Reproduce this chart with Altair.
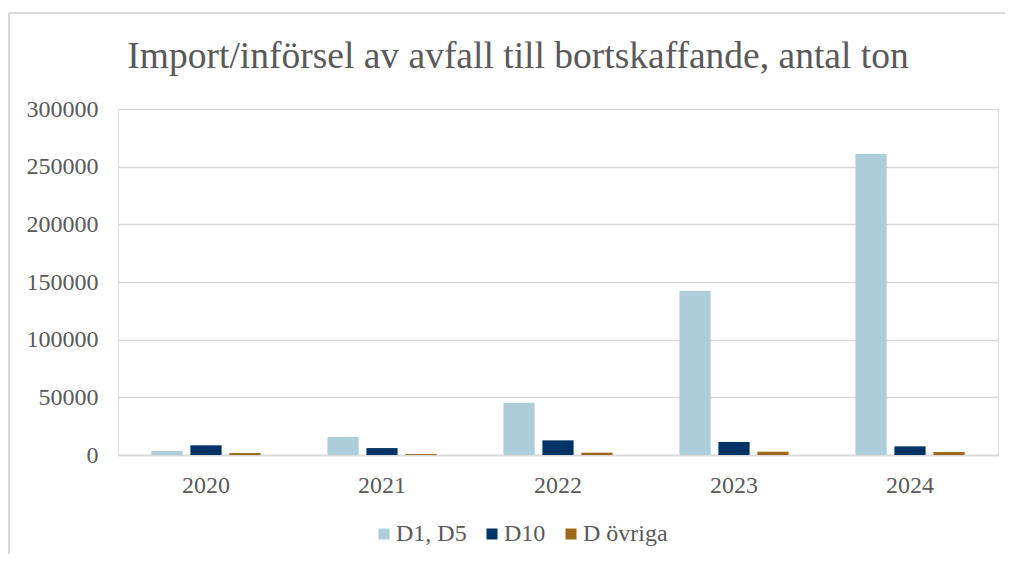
import altair as alt
import pandas as pd

years = ["2020", "2021", "2022", "2023", "2024"]
series = ["D1, D5", "D10", "D övriga"]
d1_d5 = [3500, 15600, 45300, 142200, 261000]
d10 = [8400, 6000, 12700, 11300, 7500]
d_ovriga = [1700, 800, 2000, 2900, 2600]
colors = ["#ADCDDA", "#003366", "#9C6A1A"]
y_ticks = [0, 50000, 100000, 150000, 200000, 250000, 300000]
title_text = "Import/införsel av avfall till bortskaffande, antal ton"

rows = []
for i, yr in enumerate(years):
    for s, vals in zip(series, [d1_d5, d10, d_ovriga]):
        rows.append({"År": yr, "Serie": s, "Ton": vals[i]})
df = pd.DataFrame(rows)

FONT = "Liberation Serif"
GREY = "#595959"

bars = alt.Chart(df).mark_bar().encode(
    x=alt.X("År:N", sort=years,
            scale=alt.Scale(paddingInner=0.38, paddingOuter=0.19),
            axis=alt.Axis(title=None, labelAngle=0, ticks=False, tickSize=0,
                          labelPadding=18, labelFont=FONT, labelFontSize=24,
                          labelColor=GREY, domainColor="#d9d9d9", domainWidth=1.5,
                          grid=False)),
    xOffset=alt.XOffset("Serie:N", sort=series,
                        scale=alt.Scale(paddingInner=0.2, paddingOuter=0)),
    y=alt.Y("Ton:Q", scale=alt.Scale(domain=[0, 300000], nice=False),
            axis=alt.Axis(title=None, values=y_ticks, format="d", domain=False,
                          ticks=False, tickSize=0, labelPadding=20, labelFont=FONT,
                          labelFontSize=24, labelColor=GREY, gridColor="#d9d9d9",
                          gridWidth=1.5)),
    color=alt.Color("Serie:N", sort=series,
                    scale=alt.Scale(domain=series, range=colors),
                    legend=alt.Legend(title=None, orient="none", direction="horizontal",
                                      legendX=254, legendY=413, symbolType="square",
                                      symbolSize=121, symbolStrokeWidth=0,
                                      labelFont=FONT, labelFontSize=24,
                                      labelColor=GREY, labelOffset=0,
                                      columnPadding=13, padding=0)),
)

title = alt.Chart(pd.DataFrame({"t": [title_text]})).mark_text(
    font=FONT, fontSize=37.5, color=GREY, align="center", baseline="alphabetic"
).encode(text="t:N", x=alt.value(400), y=alt.value(-41))

border_top = alt.Chart(pd.DataFrame({"a": [0]})).mark_rule(
    stroke="#d9d9d9", strokeWidth=2
).encode(x=alt.value(-109), x2=alt.value(920), y=alt.value(-96))

border_left = alt.Chart(pd.DataFrame({"a": [0]})).mark_rule(
    stroke="#d9d9d9", strokeWidth=2
).encode(x=alt.value(-109), y=alt.value(-96), y2=alt.value(470))

chart = alt.layer(border_top, border_left, bars, title).properties(
    width=880, height=346,
    autosize=alt.AutoSizeParams(type="none"),
    padding={"left": 110, "top": 101, "right": 7, "bottom": 99},
).configure_view(stroke=None).configure(background="white")

chart.save("out.html", embed_options={"renderer": "svg", "actions": False})
